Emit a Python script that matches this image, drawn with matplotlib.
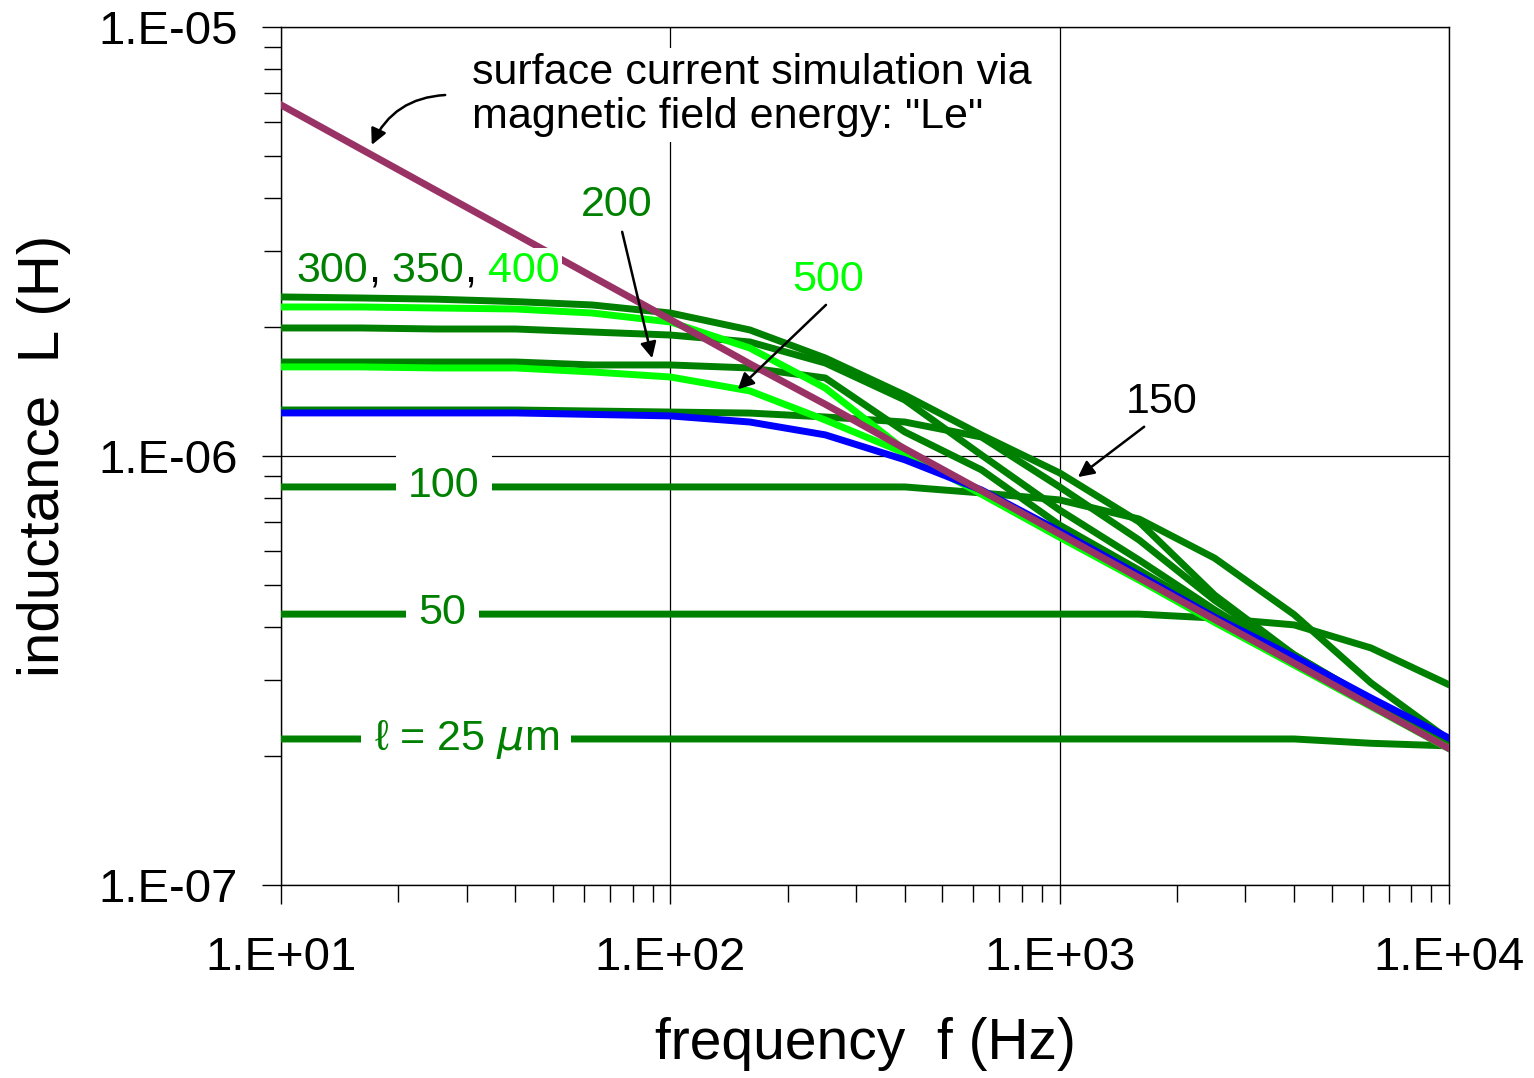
import numpy as np
import matplotlib
matplotlib.use('Agg')
from matplotlib import pyplot as plt
from matplotlib.ticker import FixedLocator, NullFormatter

# frequency points (Hz)
freq = [10, 16, 25, 40, 63, 100, 160, 250, 400, 630, 1000, 1600, 2500, 4000, 6300, 10000]

# inductance values in uH
L_le = [6.58, 5.20, 4.16, 3.29, 2.62, 2.08, 1.64, 1.32, 1.04, 0.83, 0.658, 0.52, 0.416, 0.329, 0.262, 0.208]
L_blue = [1.26, 1.26, 1.26, 1.26, 1.25, 1.24, 1.20, 1.12, 0.98, 0.833, 0.668, 0.528, 0.421, 0.340, 0.273, 0.220]
L_25 = [0.219, 0.219, 0.219, 0.219, 0.219, 0.219, 0.219, 0.219, 0.219, 0.219, 0.219, 0.219, 0.219, 0.219, 0.214, 0.211]
L_50 = [0.428, 0.428, 0.428, 0.428, 0.428, 0.428, 0.428, 0.428, 0.428, 0.428, 0.428, 0.428, 0.419, 0.404, 0.357, 0.293]
L_100 = [0.847, 0.847, 0.847, 0.847, 0.847, 0.847, 0.847, 0.847, 0.847, 0.820, 0.790, 0.713, 0.578, 0.427, 0.296, 0.218]
L_150 = [1.280, 1.280, 1.280, 1.280, 1.273, 1.266, 1.259, 1.233, 1.200, 1.107, 0.847, 0.637, 0.461, 0.344, 0.270, 0.212]
L_200 = [1.656, 1.656, 1.656, 1.656, 1.630, 1.630, 1.604, 1.520, 1.138, 0.928, 0.690, 0.542, 0.427, 0.334, 0.265, 0.212]
L_300 = [2.348, 2.335, 2.320, 2.290, 2.249, 2.154, 1.967, 1.692, 1.387, 1.119, 0.913, 0.702, 0.474, 0.344, 0.270, 0.215]
L_350 = [1.988, 1.988, 1.977, 1.977, 1.945, 1.914, 1.844, 1.647, 1.351, 1.005, 0.748, 0.572, 0.438, 0.338, 0.267, 0.212]
L_400 = [2.225, 2.225, 2.213, 2.201, 2.154, 2.053, 1.785, 1.440, 1.033, 0.815, 0.647, 0.514, 0.410, 0.326, 0.261, 0.208]
L_500 = [1.613, 1.613, 1.604, 1.604, 1.570, 1.528, 1.418, 1.213, 1.016, 0.815, 0.647, 0.514, 0.410, 0.326, 0.261, 0.208]

dark = '#008000'
light = '#00ff00'
purple = '#993366'

plt.rcParams['font.family'] = ['Liberation Sans', 'DejaVu Sans']

fig = plt.figure(figsize=(15.34, 10.78), dpi=100)
ax = fig.add_axes([0.1832, 0.179, 0.7614, 0.796])

f = np.array(freq)
lw = 5
for vals in [L_25, L_50, L_100, L_150, L_200, L_300, L_350]:
    ax.plot(f, np.array(vals) * 1e-6, color=dark, lw=lw, zorder=3)
for vals in [L_400, L_500]:
    ax.plot(f, np.array(vals) * 1e-6, color=light, lw=lw, zorder=3)
ax.plot(f, np.array(L_blue) * 1e-6, color='#0000ff', lw=lw, zorder=4)
ax.plot(f, np.array(L_le) * 1e-6, color=purple, lw=lw, zorder=5)

ax.set_xscale('log')
ax.set_yscale('log')
ax.set_xlim(10, 1e4)
ax.set_ylim(1e-7, 1e-5)

ax.set_xticks([10, 100, 1000, 10000])
ax.set_xticklabels(['1.E+01', '1.E+02', '1.E+03', '1.E+04'])
ax.set_yticks([1e-7, 1e-6, 1e-5])
ax.set_yticklabels(['1.E-07', '1.E-06', '1.E-05'])
ax.xaxis.set_minor_locator(FixedLocator([m * 10 ** e for e in range(1, 4) for m in range(2, 10)]))
ax.yaxis.set_minor_locator(FixedLocator([m * 10.0 ** e for e in range(-7, -5) for m in range(2, 10)]))
ax.xaxis.set_minor_formatter(NullFormatter())
ax.yaxis.set_minor_formatter(NullFormatter())
ax.tick_params(which='both', direction='out', color='black', width=1)
ax.tick_params(which='major', length=14, labelsize=34)
ax.tick_params(which='minor', length=12)
ax.tick_params(axis='y', which='major', pad=17)
ax.tick_params(axis='x', which='major', pad=23)
ax.grid(True, which='major', color='black', lw=0.9)
for s in ax.spines.values():
    s.set_linewidth(1)

ax.set_xlabel('frequency  f (Hz)', fontsize=41, labelpad=26)
ax.set_ylabel('inductance  L (H)', fontsize=42, labelpad=20)

box = dict(fc='white', ec='none', pad=9)
fs = 31
arrow = dict(arrowstyle='-|>', color='black', lw=1.8, shrinkA=0, shrinkB=0, mutation_scale=24)

# inline labels on the flat curves
ax.text(26.2, 0.85e-6, '100', color=dark, fontsize=fs, ha='center', va='center', bbox=box, zorder=6)
ax.text(26.0, 0.43e-6, '50', color=dark, fontsize=fs, ha='center', va='center', bbox=box, zorder=6)
ax.text(29.9, 0.218e-6, r'ℓ = 25 $\mu$m', color=dark, fontsize=fs, ha='center', va='center', bbox=box, zorder=6)

# "300, 350, 400" in mixed colours
tb = dict(fc='white', ec='none', pad=2)
t = ax.text(0.0135, 0.703, '300', color=dark, fontsize=fs, transform=ax.transAxes, va='baseline', bbox=tb, zorder=6)
for s, c in [(',', 'black'), (' 350', dark), (',', 'black'), (' 400', light)]:
    t = ax.annotate(s, xy=(1, 0), xycoords=t, color=c, fontsize=fs, va='bottom', bbox=tb, zorder=6)

ax.text(72.9, 3.85e-6, '200', color=dark, fontsize=fs, ha='center', va='center', zorder=6)
ax.annotate('', xy=(89.8, 1.69e-6), xytext=(75.2, 3.33e-6), arrowprops=arrow, zorder=6)
ax.text(254, 2.57e-6, '500', color=light, fontsize=fs, ha='center', va='center', zorder=6)
ax.annotate('', xy=(149, 1.43e-6), xytext=(251, 2.25e-6), arrowprops=arrow, zorder=6)
ax.text(1832, 1.336e-6, '150', color='black', fontsize=fs, ha='center', va='center', zorder=6)
ax.annotate('', xy=(1114, 0.893e-6), xytext=(1648, 1.17e-6), arrowprops=arrow, zorder=6)

ax.text(31, 6.94e-6, 'surface current simulation via\nmagnetic field energy: "Le"', color='black', fontsize=fs,
        ha='left', va='center', linespacing=1.12, bbox=dict(fc='white', ec='none', pad=4), zorder=6)
ax.annotate('', xy=(17.1, 5.31e-6), xytext=(26.4, 6.94e-6),
            arrowprops=dict(arrowstyle='-|>', color='black', lw=1.8, shrinkA=0, shrinkB=0,
                            connectionstyle='arc3,rad=0.3', mutation_scale=24))

fig.savefig('out.png', dpi=100)
